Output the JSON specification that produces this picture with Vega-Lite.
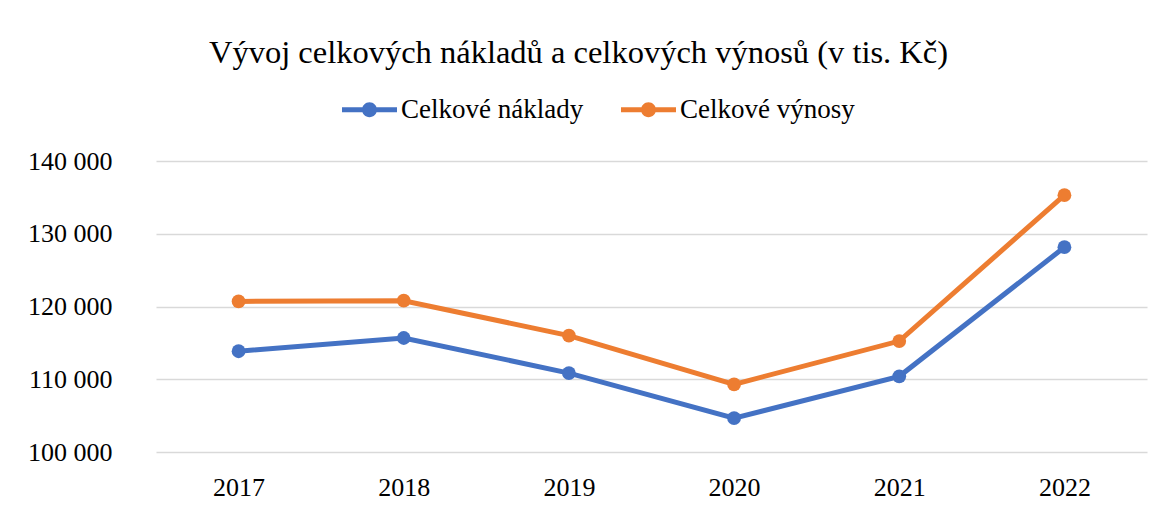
{
  "$schema": "https://vega.github.io/schema/vega-lite/v6.json",
  "width": 991,
  "height": 291,
  "autosize": {"type": "none"},
  "padding": {"left": 156, "top": 161, "right": 16, "bottom": 56},
  "background": "white",
  "title": {
    "text": "Vývoj celkových nákladů a celkových výnosů (v tis. Kč)",
    "font": "Liberation Serif",
    "fontSize": 32.5,
    "fontWeight": "normal",
    "color": "#000000",
    "anchor": "middle",
    "frame": "group",
    "dx": -73,
    "offset": 13
  },
  "data": {
    "values": [
      {"rok": "2017", "serie": "Celkové náklady", "hodnota": 113850},
      {"rok": "2018", "serie": "Celkové náklady", "hodnota": 115670},
      {"rok": "2019", "serie": "Celkové náklady", "hodnota": 110850},
      {"rok": "2020", "serie": "Celkové náklady", "hodnota": 104650},
      {"rok": "2021", "serie": "Celkové náklady", "hodnota": 110400},
      {"rok": "2022", "serie": "Celkové náklady", "hodnota": 128150},
      {"rok": "2017", "serie": "Celkové výnosy", "hodnota": 120700},
      {"rok": "2018", "serie": "Celkové výnosy", "hodnota": 120800},
      {"rok": "2019", "serie": "Celkové výnosy", "hodnota": 116000},
      {"rok": "2020", "serie": "Celkové výnosy", "hodnota": 109300},
      {"rok": "2021", "serie": "Celkové výnosy", "hodnota": 115250},
      {"rok": "2022", "serie": "Celkové výnosy", "hodnota": 135300}
    ]
  },
  "encoding": {
    "x": {
      "field": "rok",
      "type": "ordinal",
      "scale": {"type": "point", "padding": 0.5},
      "axis": {
        "title": null,
        "labelAngle": 0,
        "ticks": false,
        "domain": false,
        "labelPadding": 22,
        "labelFont": "Liberation Serif",
        "labelFontSize": 26,
        "labelColor": "#000000"
      }
    },
    "y": {
      "field": "hodnota",
      "type": "quantitative",
      "scale": {"domain": [100000, 140000], "nice": false, "zero": false},
      "axis": {
        "title": null,
        "values": [100000, 110000, 120000, 130000, 140000],
        "labelExpr": "replace(format(datum.value, ','), ',', ' ')",
        "ticks": false,
        "domain": false,
        "labelPadding": 44,
        "labelFont": "Liberation Serif",
        "labelFontSize": 26,
        "labelColor": "#000000",
        "gridColor": "#d9d9d9",
        "gridWidth": 1.5
      }
    },
    "color": {
      "field": "serie",
      "type": "nominal",
      "scale": {"domain": ["Celkové náklady", "Celkové výnosy"], "range": ["#4472C4", "#ED7D31"]},
      "legend": {
        "title": null,
        "orient": "none",
        "direction": "horizontal",
        "legendX": 186,
        "legendY": -79,
        "symbolType": "M-1,-0.09L1,-0.09L1,0.09L-1,0.09Z M0.27,0A0.27,0.27,0,1,1,-0.27,0A0.27,0.27,0,1,1,0.27,0Z",
        "symbolSize": 3025,
        "symbolStrokeWidth": 0,
        "labelFont": "Liberation Serif",
        "labelFontSize": 27,
        "labelColor": "#000000",
        "labelOffset": 4,
        "columnPadding": 37,
        "labelLimit": 400
      }
    }
  },
  "layer": [
    {"mark": {"type": "line", "strokeWidth": 5}},
    {"mark": {"type": "point", "filled": true, "size": 190, "opacity": 1}}
  ],
  "config": {
    "view": {"stroke": null},
    "font": "Liberation Serif"
  }
}
